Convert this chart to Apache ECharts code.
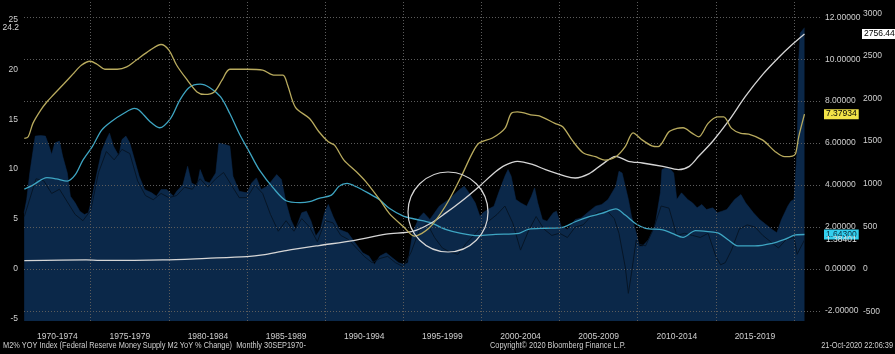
<!DOCTYPE html>
<html>
<head>
<meta charset="utf-8">
<script src="https://cdn.jsdelivr.net/npm/echarts@6/dist/echarts.min.js"></script>
<style>
  html, body { margin: 0; padding: 0; background: #000; }
  #chart { width: 895px; height: 354px; }
</style>
</head>
<body>
<div id="chart"></div>
<script>
var FONT = '"Liberation Sans", Arial, sans-serif';

// x labels (5-year blocks) and where they sit
var xLabels = ['1970-1974', '1975-1979', '1980-1984', '1985-1989', '1990-1994',
  '1995-1999', '2000-2004', '2005-2009', '2010-2014', '2015-2019'];
var xLabelPos = [1972.87, 1977.5, 1982.5, 1987.5, 1992.5, 1997.5, 2002.5, 2007.5, 2012.5, 2017.5];
var xGridYears = [1975, 1980, 1985, 1990, 1995, 2000, 2005, 2010, 2015, 2020];

var leftTicks = [-5, 0, 5, 10, 15, 20, 25];
var rightTicks = [-2, 0, 2, 4, 6, 8, 10, 12];
var farTicks = [-500, 0, 500, 1000, 1500, 2000, 2500, 3000];

// M2 % YoY (left axis), [year, value]
var m2Yoy = [
  [1970.74, 5.6], [1970.9, 6.9], [1971.1, 9.6], [1971.45, 13.3], [1971.8, 13.35], [1972.1, 13.3],
  [1972.3, 12.45], [1972.5, 11.45], [1972.7, 12.6], [1973.0, 12.8], [1973.2, 11.3], [1973.5, 9.6],
  [1973.7, 7.26], [1974.0, 6.6], [1974.3, 5.76], [1974.6, 5.42], [1974.85, 5.6], [1975.06, 6.93],
  [1975.4, 9.6], [1975.7, 11.8], [1976.0, 12.95], [1976.2, 13.6], [1976.45, 12.3], [1976.8, 11.3],
  [1977.0, 12.95], [1977.25, 13.3], [1977.5, 12.6], [1977.8, 10.94], [1978.1, 9.27], [1978.45, 7.93],
  [1978.9, 7.6], [1979.2, 7.26], [1979.5, 7.93], [1979.85, 7.93], [1980.3, 7.26], [1980.5, 7.76],
  [1980.9, 8.43], [1981.2, 10.27], [1981.45, 8.6], [1981.8, 8.27], [1982.0, 9.94], [1982.3, 8.77],
  [1982.6, 8.6], [1983.0, 9.6], [1983.2, 12.6], [1983.6, 12.45], [1983.9, 12.3], [1984.1, 9.27],
  [1984.5, 7.76], [1985.0, 7.6], [1985.3, 8.6], [1985.6, 9.1], [1985.9, 7.93], [1986.3, 8.27],
  [1986.9, 9.44], [1987.2, 8.94], [1987.5, 6.6], [1987.8, 4.92], [1988.1, 3.92], [1988.5, 5.6],
  [1988.8, 5.76], [1989.1, 4.75], [1989.4, 3.25], [1989.7, 3.92], [1989.96, 5.6], [1990.2, 6.43],
  [1990.5, 5.25], [1990.9, 3.92], [1991.45, 3.58], [1992.0, 2.41], [1992.4, 1.57], [1992.8, 1.24],
  [1993.15, 0.4], [1993.5, 1.24], [1993.9, 1.57], [1994.3, 1.07], [1994.7, 0.57], [1995.06, 0.4],
  [1995.3, 0.57], [1995.6, 3.58], [1996.0, 5.09], [1996.3, 5.6], [1996.7, 4.92], [1997.3, 6.26],
  [1997.9, 6.93], [1998.6, 7.93], [1998.9, 8.27], [1999.2, 7.6], [1999.6, 6.6], [1999.9, 5.25],
  [2000.1, 5.6], [2000.4, 5.92], [2000.8, 6.26], [2001.1, 7.6], [2001.5, 9.27], [2001.7, 9.94],
  [2001.9, 9.27], [2002.2, 6.93], [2002.5, 6.6], [2002.9, 6.26], [2003.2, 7.26], [2003.4, 8.1],
  [2003.6, 6.6], [2003.9, 4.92], [2004.2, 4.75], [2004.6, 5.6], [2004.8, 5.76], [2005.1, 4.25],
  [2005.5, 3.92], [2006.0, 4.92], [2006.4, 5.09], [2006.9, 5.76], [2007.3, 6.26], [2007.7, 6.43],
  [2008.1, 6.93], [2008.6, 8.27], [2008.8, 9.77], [2009.0, 9.6], [2009.2, 8.27], [2009.4, 6.93],
  [2009.6, 5.25], [2009.9, 3.58], [2010.1, 2.24], [2010.3, 2.24], [2010.7, 2.91], [2011.1, 4.25],
  [2011.45, 7.6], [2011.55, 9.94], [2011.8, 10.1], [2012.1, 9.94], [2012.3, 9.6], [2012.5, 6.93],
  [2012.8, 7.6], [2013.2, 6.93], [2013.5, 6.6], [2013.8, 6.09], [2014.1, 6.43], [2014.4, 5.92],
  [2014.8, 6.09], [2015.1, 5.6], [2015.4, 5.76], [2015.7, 5.92], [2016.2, 6.93], [2016.6, 7.43],
  [2016.9, 6.6], [2017.4, 5.6], [2017.8, 4.92], [2018.2, 4.42], [2018.6, 3.92], [2018.9, 3.58],
  [2019.2, 4.92], [2019.6, 6.26], [2019.8, 6.76], [2020.0, 6.93], [2020.2, 11.95], [2020.3, 21.0],
  [2020.4, 23.66], [2020.67, 24.2]
];

// yellow line (right axis)
var yellowLine = [
  [1970.75, 6.22], [1971.0, 6.3], [1971.3, 6.94], [1971.8, 7.57], [1972.2, 7.97], [1972.6, 8.29],
  [1973.3, 8.84], [1973.9, 9.32], [1974.4, 9.71], [1974.96, 9.9], [1975.4, 9.76], [1975.9, 9.52],
  [1976.7, 9.52], [1977.3, 9.63], [1977.9, 9.95], [1978.8, 10.43], [1979.5, 10.7], [1980.0, 10.43],
  [1980.5, 9.71], [1981.1, 9.08], [1981.8, 8.44], [1982.3, 8.32], [1982.9, 8.44], [1983.4, 9.0],
  [1983.9, 9.52], [1985.0, 9.52], [1986.0, 9.48], [1986.7, 9.24], [1987.3, 9.24], [1987.6, 8.76],
  [1988.1, 7.7], [1989.0, 7.17], [1989.6, 6.54], [1990.2, 6.06], [1990.6, 5.9], [1991.2, 5.19],
  [1992.0, 4.63], [1992.6, 4.16], [1993.5, 3.29], [1994.1, 2.65], [1995.0, 2.02], [1995.7, 1.57],
  [1996.65, 1.95], [1997.7, 3.0], [1998.7, 4.4], [1999.4, 5.5], [1999.85, 6.0], [2000.7, 6.24],
  [2001.5, 6.7], [2001.9, 7.41], [2002.3, 7.49], [2003.3, 7.33], [2003.7, 7.3], [2004.7, 6.94],
  [2005.2, 6.78], [2005.8, 6.14], [2006.5, 5.54], [2007.3, 5.35], [2007.9, 5.19], [2008.6, 5.35],
  [2009.2, 5.83], [2009.7, 6.49], [2010.3, 6.14], [2010.9, 5.87], [2011.3, 5.83], [2012.0, 6.54],
  [2012.5, 6.7], [2012.9, 6.73], [2013.5, 6.46], [2013.9, 6.3], [2014.5, 6.94], [2015.1, 7.25],
  [2015.5, 7.25], [2016.0, 6.7], [2016.6, 6.46], [2017.1, 6.43], [2018.0, 6.14], [2018.8, 5.59],
  [2019.4, 5.35], [2019.9, 5.38], [2020.1, 5.5], [2020.3, 6.3], [2020.67, 7.37934]
];

// cyan line (right axis)
var cyanLine = [
  [1970.75, 3.81], [1971.3, 4.0], [1972.2, 4.35], [1972.8, 4.29], [1973.5, 4.19], [1974.0, 4.48],
  [1974.5, 5.19], [1975.1, 5.83], [1975.7, 6.62], [1976.3, 7.02], [1977.1, 7.41], [1977.8, 7.65],
  [1978.1, 7.57], [1978.8, 7.02], [1979.4, 6.73], [1980.1, 7.17], [1980.7, 8.05], [1981.3, 8.65],
  [1982.0, 8.81], [1982.6, 8.65], [1983.3, 8.21], [1983.9, 7.41], [1984.5, 6.46], [1985.2, 5.51],
  [1985.8, 4.71], [1986.7, 3.84], [1987.5, 3.25], [1988.4, 3.16], [1989.0, 3.21], [1989.6, 3.37],
  [1990.4, 3.52], [1990.9, 3.95], [1991.4, 4.08], [1992.0, 3.92], [1992.8, 3.6], [1993.5, 3.29],
  [1994.1, 2.89], [1995.0, 2.52], [1995.8, 2.37], [1996.7, 2.22], [1997.7, 1.89], [1998.7, 1.7],
  [1999.8, 1.59], [2000.9, 1.65], [2002.4, 1.7], [2003.0, 1.89], [2004.1, 1.94], [2005.1, 1.97],
  [2006.0, 2.25], [2006.9, 2.49], [2007.7, 2.65], [2008.6, 2.86], [2009.2, 2.57], [2009.9, 2.14],
  [2010.5, 1.94], [2011.6, 1.86], [2012.2, 1.7], [2012.9, 1.51], [2013.7, 1.83], [2014.5, 1.78],
  [2015.2, 1.7], [2015.8, 1.38], [2016.4, 1.1], [2017.5, 1.1], [2018.6, 1.22], [2019.4, 1.41],
  [2020.1, 1.62], [2020.67, 1.643]
];

// white line (far right axis)
var whiteLine = [
  [1970.75, 98], [1974.7, 106], [1975.6, 100], [1979.6, 106], [1982.4, 125], [1985.0, 145],
  [1986.0, 165], [1987.5, 216], [1989.6, 275], [1991.8, 333], [1993.9, 408], [1995.6, 440],
  [1996.7, 530], [1997.7, 655], [1998.7, 792], [1999.8, 960], [2000.9, 1140], [2001.5, 1216],
  [2002.3, 1263], [2003.3, 1224], [2004.1, 1165], [2005.4, 1086], [2006.0, 1067], [2006.9, 1118],
  [2007.7, 1224], [2008.6, 1322], [2009.4, 1263], [2010.3, 1243], [2011.6, 1204], [2012.6, 1165],
  [2013.3, 1204], [2013.9, 1322], [2014.8, 1498], [2015.8, 1733], [2016.9, 2027], [2018.0, 2282],
  [2019.0, 2478], [2019.9, 2635], [2020.67, 2756.44]
];

// thin dark line (right axis)
var thinLine = [
  [1970.75, 2.5], [1971.5, 4.3], [1972.0, 4.2], [1972.5, 3.6], [1973.0, 3.8], [1973.5, 3.2],
  [1974.0, 2.6], [1974.5, 2.3], [1975.0, 2.8], [1975.5, 4.6], [1976.0, 5.6], [1976.5, 5.2],
  [1977.0, 5.7], [1977.5, 5.5], [1978.0, 4.2], [1978.5, 3.5], [1979.0, 3.3], [1979.5, 3.6],
  [1980.0, 3.4], [1980.5, 3.5], [1981.0, 3.9], [1981.5, 3.8], [1982.0, 4.3], [1982.5, 3.9],
  [1983.0, 4.3], [1983.5, 4.6], [1984.0, 4.0], [1984.5, 3.4], [1985.0, 3.4], [1985.5, 4.0],
  [1986.0, 3.6], [1986.5, 2.6], [1987.0, 1.8], [1987.5, 2.3], [1988.0, 1.8], [1988.5, 2.4],
  [1989.0, 2.0], [1989.5, 1.3], [1990.0, 2.3], [1990.5, 2.2], [1991.0, 1.6], [1991.5, 1.4],
  [1992.0, 1.0], [1992.5, 0.6], [1993.0, 0.3], [1993.5, 0.5], [1994.0, 0.6], [1994.5, 0.3],
  [1995.0, 0.1], [1995.5, 0.8], [1996.0, 1.8], [1996.5, 2.2], [1997.0, 1.5], [1997.5, 1.0],
  [1998.0, 0.8], [1998.5, 0.7], [1999.0, 1.2], [1999.5, 1.6], [2000.0, 2.0], [2000.5, 2.3],
  [2001.0, 2.6], [2001.5, 3.0], [2002.0, 2.2], [2002.5, 0.9], [2003.0, 1.8], [2003.5, 2.5],
  [2004.0, 1.9], [2004.5, 1.6], [2005.0, 1.7], [2005.5, 1.5], [2006.0, 2.0], [2006.5, 2.1],
  [2007.0, 2.5], [2007.5, 2.7], [2008.0, 2.8], [2008.5, 2.4], [2008.8, 1.7], [2009.2, 0.1],
  [2009.4, -1.16], [2009.6, -0.2], [2009.9, 1.38], [2010.0, 1.2], [2010.5, 1.1], [2011.0, 1.9],
  [2011.5, 3.0], [2012.0, 2.9], [2012.5, 1.6], [2013.0, 1.7], [2013.5, 1.6], [2014.0, 1.5],
  [2014.5, 1.7], [2015.0, 0.6], [2015.3, 0.2], [2015.6, 0.3], [2016.0, 0.9], [2016.5, 1.9],
  [2017.0, 2.1], [2017.5, 2.0], [2018.0, 1.6], [2018.5, 1.3], [2019.0, 1.0], [2019.5, 1.4],
  [2020.0, 1.5], [2020.2, 0.7], [2020.4, 1.0], [2020.67, 1.38401]
];

var chart = echarts.init(document.getElementById('chart'));

var gridLine = { type: [1, 2], color: '#5c5c5c', width: 1 };
var labelColor = '#cfcfcf';

// last-value tag on the axis side (line itself invisible)
function tag(value, text, bg, fg, dist, pos) {
	return {
		yAxis: value,
		label: {
			show: true,
			opacity: 1,
			position: pos || 'end',
			distance: dist,
			formatter: text,
			color: fg,
			backgroundColor: bg || 'transparent',
			padding: bg ? [1, 2, 0, 2] : 0,
			fontFamily: FONT,
			fontSize: 8.5
		},
		lineStyle: { color: 'rgba(0,0,0,0)', width: 1 }
	};
}

var option = {
	backgroundColor: '#000',
	animation: false,
	textStyle: { fontFamily: FONT },
	grid: { left: 24, right: 73, top: 0, bottom: 33 },
	xAxis: {
		type: 'value',
		min: 1970.73,
		max: 2021.79,
		axisLine: { show: false },
		axisTick: { show: false },
		splitLine: { show: false },
		axisLabel: {
			customValues: xLabelPos,
			color: labelColor,
			fontSize: 8.5,
			margin: 11,
			formatter: function (v) {
				for (var i = 0; i < xLabelPos.length; i++) {
					if (Math.abs(xLabelPos[i] - v) < 0.01) return xLabels[i];
				}
				return '';
			}
		}
	},
	yAxis: [{
		type: 'value',
		position: 'left',
		min: -5.28,
		max: 26.98,
		axisLine: { show: false },
		axisTick: { show: false },
		splitLine: { show: false },
		axisLabel: { customValues: leftTicks, color: labelColor, fontSize: 8.5, margin: 6 }
	}, {
		type: 'value',
		position: 'right',
		min: -2.48,
		max: 12.82,
		axisLine: { show: false },
		axisTick: { show: false },
		splitLine: { show: false },
		axisLabel: {
			customValues: rightTicks, color: labelColor, fontSize: 8.5, margin: 3,
			formatter: function (v) { return v.toFixed(5); }
		}
	}, {
		type: 'value',
		position: 'right',
		offset: 38,
		min: -610,
		max: 3155,
		axisLine: { show: false },
		axisTick: { show: false },
		splitLine: { show: false },
		axisLabel: {
			customValues: farTicks, color: labelColor, fontSize: 8.5, margin: 3,
			formatter: function (v) { return String(v); }
		}
	}],
	graphic: [
		{ type: 'circle', shape: { cx: 448, cy: 212, r: 40 }, style: { fill: 'none', stroke: '#d8d8d8', lineWidth: 1.2 }, z: 100 },
		{ type: 'text', x: 3, y: 341, scaleX: 0.82, style: { text: 'M2% YOY Index (Federal Reserve Money Supply M2 YoY % Change)  Monthly 30SEP1970-', fill: labelColor, font: '9px ' + FONT } },
		{ type: 'text', x: 490, y: 341, scaleX: 0.82, style: { text: 'Copyright\u00a9 2020 Bloomberg Finance L.P.', fill: labelColor, font: '9px ' + FONT } },
		{ type: 'text', x: 893, y: 341, scaleX: 0.82, style: { text: '21-Oct-2020 22:06:39', fill: labelColor, font: '9px ' + FONT, align: 'right' } }
	],
	series: [{
		name: 'M2% YoY',
		type: 'line',
		yAxisIndex: 0,
		data: m2Yoy,
		symbol: 'none',
		clip: false,
		lineStyle: { color: '#0d2b50', width: 0.5 },
		areaStyle: { color: '#0b2849', opacity: 1, origin: 'start' },
		z: 1,
		markLine: {
			silent: true,
			symbol: 'none',
			data: [tag(24.2, '24.2', null, '#d8d8d8', 5, 'start')]
		}
	}, {
		name: 'thin',
		type: 'line',
		yAxisIndex: 1,
		data: thinLine,
		symbol: 'none',
		lineStyle: { color: '#061526', width: 1 },
		z: 2,
		markLine: {
			silent: true,
			symbol: 'none',
			data: xGridYears.map(function (y) { return { xAxis: y, lineStyle: gridLine, label: { show: false } }; })
				.concat(rightTicks.map(function (v) { return { yAxis: v, lineStyle: gridLine, label: { show: false } }; }))
		}
	}, {
		name: 'cyan',
		type: 'line',
		yAxisIndex: 1,
		data: cyanLine,
		symbol: 'none',
		smooth: 0.3,
		clip: false,
		lineStyle: { color: '#3ea5c2', width: 1.3 },
		z: 4,
		markLine: {
			silent: true,
			symbol: 'none',
			data: [tag(1.643, '1.64300', '#33cfee', '#0a3040', 2), tag(1.38401, '1.38401', null, '#e0e0e0', 4)]
		}
	}, {
		name: 'white',
		type: 'line',
		yAxisIndex: 2,
		data: whiteLine,
		symbol: 'none',
		smooth: 0.3,
		clip: false,
		lineStyle: { color: '#d6d6d6', width: 1.3 },
		z: 5,
		markLine: {
			silent: true,
			symbol: 'none',
			data: [tag(2756.44, '2756.44', '#ffffff', '#000', 40)]
		}
	}, {
		name: 'yellow',
		type: 'line',
		yAxisIndex: 1,
		data: yellowLine,
		symbol: 'none',
		smooth: 0.3,
		clip: false,
		lineStyle: { color: '#b9ab5e', width: 1.3 },
		z: 6,
		markLine: {
			silent: true,
			symbol: 'none',
			data: [tag(7.37934, '7.37934', '#f2e348', '#000', 2)]
		}
	}]
};

chart.setOption(option);
</script>
</body>
</html>
